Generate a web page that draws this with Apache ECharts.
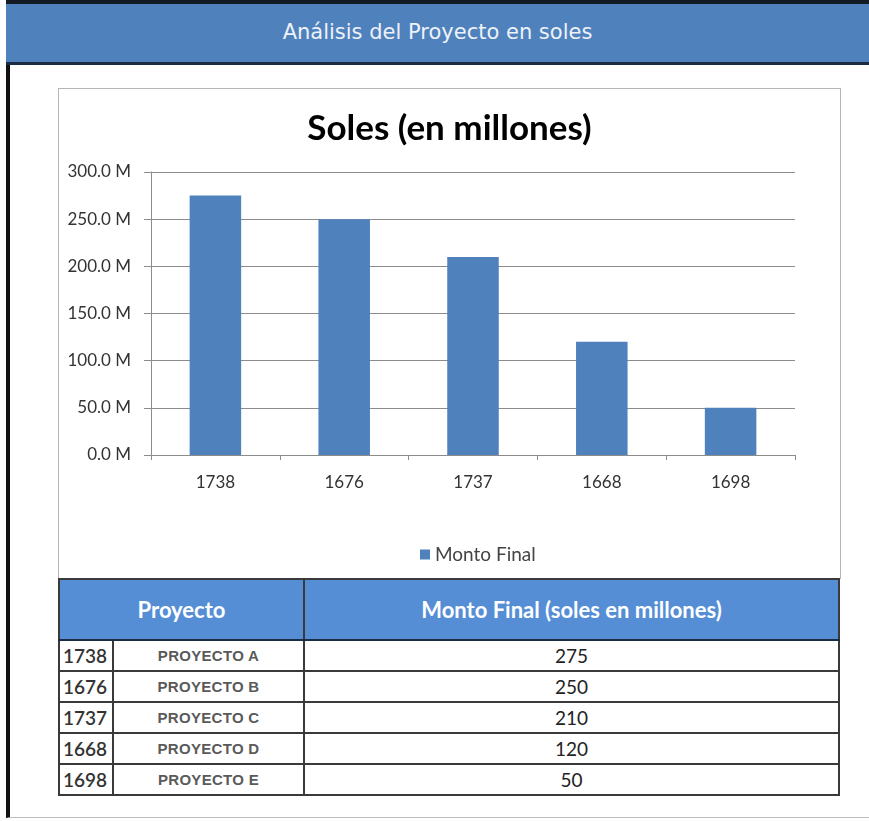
<!DOCTYPE html>
<html>
<head>
<meta charset="utf-8">
<title>Análisis del Proyecto en soles</title>
<script src="https://cdn.jsdelivr.net/npm/echarts@6/dist/echarts.min.js"></script>
<style>
  html, body { margin: 0; padding: 0; background: #fff; }
  body { width: 869px; height: 821px; position: relative; overflow: hidden; font-family: Lato, "Noto Sans", sans-serif; }
  .frame { position: absolute; left: 6px; top: 0; width: 863px; height: 818px; border-left: 4px solid #111; border-bottom: 1px solid #bdbdbd; box-sizing: border-box; }
  .header { position: absolute; left: 6px; top: 0; width: 863px; height: 65px; background: #4f81bd; border-top: 4px solid #141a24; border-bottom: 3px solid #1c2c44; box-sizing: border-box; color: #eef2f8; font-family: "DejaVu Sans", sans-serif; font-size: 21px; text-align: center; line-height: 56px; }
  .panel { position: absolute; left: 58px; top: 88px; width: 783px; height: 491px; border: 1px solid #b5b5b5; box-sizing: border-box; }
  #chart { width: 100%; height: 100%; }
  table { position: absolute; left: 58px; top: 578px; width: 782px; border-collapse: collapse; table-layout: fixed; }
  th, td { border: 2px solid #3a3a3a; padding: 0; text-align: center; }
  th { background: #558ed5; color: #fff; font-weight: 700; font-size: 22px; height: 59px; border-bottom-color: #1c2c44; }
  td { height: 29px; font-size: 19px; color: #222; }
  td.id { text-align: left; padding-left: 3px; font-weight: 600; color: #333; }
  td.name { font-family: "Liberation Sans", Arial, sans-serif; font-weight: 700; font-size: 15px; color: #5a5a5a; letter-spacing: 0.3px; }
</style>
</head>
<body>
<div class="frame"></div>
<div class="header">Análisis del Proyecto en soles</div>
<div class="panel"><div id="chart"></div></div>
<table id="tabla">
  <colgroup><col style="width:54px"><col style="width:191px"><col></colgroup>
  <thead><tr><th colspan="2">Proyecto</th><th>Monto Final (soles en millones)</th></tr></thead>
  <tbody></tbody>
</table>
<script>
// datos del gráfico
const codigos = ['1738', '1676', '1737', '1668', '1698']
const proyectos = ['PROYECTO A', 'PROYECTO B', 'PROYECTO C', 'PROYECTO D', 'PROYECTO E']
const montoFinal = [275, 250, 210, 120, 50]

const axisGray = '#8c8c8c'

const chart = echarts.init(document.getElementById('chart'))

chart.setOption({
  animation: false,
  title: {
    text: 'Soles (en millones)',
    left: 'center',
    top: 17,
    textStyle: { fontFamily: 'Lato', fontSize: 35, fontWeight: 'bold', color: '#000' }
  },
  legend: {
    bottom: 9,
    left: 356,
    icon: 'rect',
    itemWidth: 10,
    itemHeight: 10,
    itemGap: 4,
    textStyle: { fontFamily: 'Lato', fontSize: 19, color: '#444' },
    data: ['Monto Final']
  },
  grid: { left: 92, right: 45, top: 83, bottom: 123 },
  xAxis: {
    type: 'category',
    data: codigos,
    axisLine: { lineStyle: { color: axisGray } },
    axisTick: { show: true, length: 5, lineStyle: { color: axisGray } },
    axisLabel: { fontFamily: 'Lato', fontSize: 17, color: '#333', margin: 19 }
  },
  yAxis: {
    type: 'value',
    min: 0,
    max: 300,
    interval: 50,
    axisLine: { show: true, lineStyle: { color: axisGray } },
    axisTick: { show: true, length: 7, lineStyle: { color: axisGray } },
    splitLine: { lineStyle: { color: axisGray } },
    axisLabel: {
      fontFamily: 'Lato', fontSize: 17, color: '#333', margin: 20,
      formatter: v => v.toFixed(1) + ' M'
    }
  },
  series: [{
    name: 'Monto Final',
    type: 'bar',
    data: montoFinal,
    barCategoryGap: '60%',
    itemStyle: { color: '#4f81bd' }
  }]
})

// tabla a partir de los mismos arrays
const tbody = document.querySelector('#tabla tbody')
codigos.forEach((c, i) => {
  const tr = document.createElement('tr')
  tr.innerHTML = '<td class="id">' + c + '</td><td class="name">' + proyectos[i] + '</td><td>' + montoFinal[i] + '</td>'
  tbody.appendChild(tr)
})
</script>
</body>
</html>
